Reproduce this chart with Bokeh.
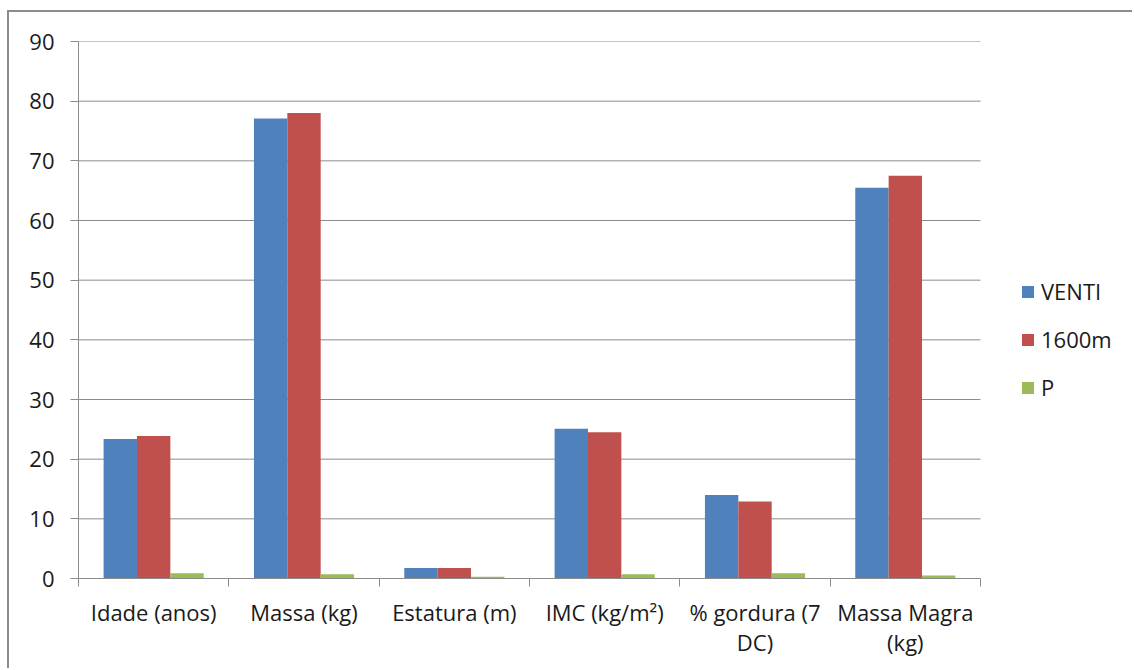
from bokeh.plotting import figure
from bokeh.models import Range1d, FixedTicker, Legend, LegendItem
from bokeh.embed import file_html
from bokeh.resources import INLINE
import numpy as np

categories = ["Idade (anos)", "Massa (kg)", "Estatura (m)", "IMC (kg/m²)", "% gordura (7\nDC)", "Massa Magra\n(kg)"]
series_names = ["VENTI", "1600m", "P"]
venti = [23.4, 77.1, 1.75, 25.1, 14.0, 65.5]
m1600 = [23.9, 78.0, 1.75, 24.5, 12.9, 67.5]
p_vals = [0.9, 0.7, 0.3, 0.7, 0.9, 0.5]
y_ticks = [0, 10, 20, 30, 40, 50, 60, 70, 80, 90]
colors = ["#4F81BD", "#C0504D", "#9BBB59"]

FONT = "Open Sans"
FS = "22px"
GRAY = "#8c8c8c"
W, H = 1125, 658
LEFT = 69
CAT_PX = 902 / len(categories)
n = len(categories)

p = figure(width=W, height=H, output_backend="svg", toolbar_location=None,
           x_range=Range1d(0, (W - LEFT) / CAT_PX), y_range=Range1d(0, 90),
           min_border_left=LEFT, min_border_right=0, min_border_top=29, min_border_bottom=92)
p.margin = (10, 0, 0, 7)
p.styles = {"border-top": "2px solid " + GRAY, "border-left": "2px solid " + GRAY}
p.outline_line_color = None
p.background_fill_color = "white"
p.border_fill_color = "white"

# horizontal gridlines limited to the category area
p.xgrid.grid_line_color = None
p.ygrid.grid_line_color = None
p.segment(x0=[0] * len(y_ticks), x1=[n] * len(y_ticks), y0=y_ticks, y1=y_ticks,
          line_color=GRAY, line_width=1)

centers = np.arange(n) + 0.5
bw = 0.222
renderers = []
for i, (vals, c) in enumerate(zip([venti, m1600, p_vals], colors)):
    r = p.vbar(x=centers + (i - 1) * bw, top=vals, width=bw, bottom=0,
               fill_color=c, line_color=None)
    renderers.append(r)

# axes
p.xaxis.bounds = (0, n)
p.xaxis.ticker = FixedTicker(ticks=list(centers), minor_ticks=list(range(n + 1)))
p.xaxis.major_label_overrides = {float(c): lab for c, lab in zip(centers, categories)}
p.xaxis.major_tick_line_color = None
p.xaxis.major_tick_out = 0
p.xaxis.minor_tick_out = 8
p.xaxis.minor_tick_in = 0
p.xaxis.minor_tick_line_color = GRAY
p.xaxis.axis_line_color = GRAY
p.xaxis.major_label_standoff = 10
p.xaxis.major_label_text_font = FONT
p.xaxis.major_label_text_font_size = FS
p.xaxis.major_label_text_line_height = 1.0
p.xaxis.major_label_text_color = "#1a1a1a"

p.yaxis.ticker = FixedTicker(ticks=y_ticks)
p.yaxis.minor_tick_line_color = None
p.yaxis.major_tick_out = 8
p.yaxis.major_tick_in = 0
p.yaxis.major_tick_line_color = GRAY
p.yaxis.axis_line_color = GRAY
p.yaxis.major_label_standoff = 16
p.yaxis.major_label_text_font = FONT
p.yaxis.major_label_text_font_size = FS
p.yaxis.major_label_text_color = "#1a1a1a"

legend = Legend(items=[LegendItem(label=s, renderers=[r]) for s, r in zip(series_names, renderers)],
                location=(942, 176), orientation="vertical")
legend.padding = 0
legend.margin = 0
legend.border_line_color = None
legend.background_fill_alpha = 0
legend.glyph_width = 15
legend.glyph_height = 15
legend.label_height = 15
legend.spacing = 18
legend.label_standoff = 6
legend.label_text_font = FONT
legend.label_text_font_size = FS
legend.label_text_color = "#1a1a1a"
legend.label_text_baseline = "middle"
p.add_layout(legend, "center")

open("out.html", "w").write(file_html(p, INLINE))
